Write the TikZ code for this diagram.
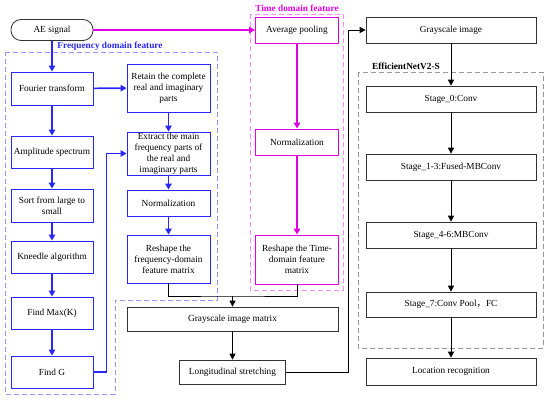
\documentclass[tikz,border=0pt]{standalone}
\usepackage{fontspec}
\setmainfont{Liberation Serif}
\newfontfamily\cjk{Noto Sans CJK SC}
\usetikzlibrary{arrows.meta}
\definecolor{fblue}{RGB}{40,40,250}
\definecolor{fdash}{RGB}{150,150,255}
\definecolor{tmag}{RGB}{225,0,225}
\definecolor{tdash}{RGB}{255,140,255}
\definecolor{edash}{RGB}{150,150,150}
\tikzset{
  box/.style={draw, rectangle, align=center, inner sep=0pt, font=\fontsize{9.3}{11}\selectfont},
  fbox/.style={box, draw=fblue, line width=0.9pt, minimum width=82, minimum height=32},
  tbox/.style={box, draw=tmag, line width=0.9pt, minimum width=83, minimum height=26},
  ebox/.style={box, draw=black!80, line width=0.7pt, minimum width=170, minimum height=26},
  farr/.style={fblue, line width=1.6pt, -{Triangle[length=6pt,width=6.5pt]}},
  tarr/.style={tmag, line width=1.1pt, -{Triangle[length=6pt,width=6.5pt]}},
  earr/.style={black, line width=0.8pt, -{Triangle[length=6pt,width=6pt]}},
  grp/.style={font=\fontsize{9.3}{11}\selectfont\bfseries},
  frame/.style={dash pattern=on 5pt off 3pt, line width=0.6pt}
}
\begin{document}
\begin{tikzpicture}[x=1pt,y=-1pt]
\useasboundingbox (0,0) rectangle (550,403);

% group frames
\draw[frame, fdash] (5,52) -- (217,52) -- (217,300) -- (115,300) -- (115,394) -- (5,394) -- cycle;
\draw[frame, tdash] (250,14) rectangle (343,290);
\draw[frame, edash] (358,72) rectangle (543,348);
\node[grp, text=fblue] (flabel) at (110,46) {Frequency domain feature};
\node[grp, text=tmag] (tlabel) at (297,8) {Time domain feature};
\node[grp] (elabel) at (406,66) {EfficientNetV2-S};

% frequency branch
\node[box, draw=black!80, line width=0.8pt, rounded corners=10pt, minimum width=82, minimum height=21] (ae) at (52,30) {AE signal};
\node[fbox, minimum height=33] (ft) at (52,88.5) {Fourier transform};
\node[fbox] (amp) at (52,152) {Amplitude spectrum};
\node[fbox, minimum height=33] (sort) at (52,205.5) {Sort from large to\\small};
\node[fbox] (kn) at (52,257) {Kneedle algorithm};
\node[fbox] (mx) at (52,313) {Find Max(K)};
\node[fbox] (g) at (52,372) {Find G};
\node[fbox, minimum width=83, minimum height=48] (ret) at (168.5,88) {Retain the complete\\real and imaginary\\parts};
\node[fbox, minimum width=83, minimum height=43] (ext) at (168.5,153.5) {Extract the main\\frequency parts of\\the real and\\imaginary parts};
\node[fbox, minimum width=83, minimum height=26] (nrm) at (168.5,203) {Normalization};
\node[fbox, minimum width=83, minimum height=48] (rsf) at (168.5,259) {Reshape the\\frequency-domain\\feature matrix};

% time branch
\node[tbox] (avg) at (297,30) {Average pooling};
\node[tbox] (nrt) at (297,142) {Normalization};
\node[tbox, minimum height=49] (rst) at (297,259.5) {Reshape the Time-\\domain feature\\matrix};

% image and network
\node[ebox, minimum width=211, minimum height=24] (gim) at (232.5,319) {Grayscale image matrix};
\node[ebox, minimum width=106, minimum height=24] (lst) at (232.5,372) {Longitudinal stretching};
\node[ebox] (gi) at (451,30) {Grayscale image};
\node[ebox] (s0) at (451,99) {Stage\_0:Conv};
\node[ebox] (s13) at (451,167) {Stage\_1-3:Fused-MBConv};
\node[ebox] (s46) at (451,235) {Stage\_4-6:MBConv};
\node[ebox, minimum height=25] (s7) at (451,304.5) {Stage\_7:Conv Pool{\cjk ，}FC};
\node[ebox, minimum height=27] (loc) at (451,371.5) {Location recognition};
\coordinate (jn) at (232.5,296);

% connectors
\draw[farr] (ae) -- (ft);
\draw[farr] (ft) -- (amp);
\draw[farr] (amp) -- (sort);
\draw[farr] (sort) -- (kn);
\draw[farr] (kn) -- (mx);
\draw[farr] (mx) -- (g);
\draw[farr] (ft) -- (ret);
\draw[farr] (ret) -- (ext);
\draw[farr] (ext) -- (nrm);
\draw[farr] (nrm) -- (rsf);
\draw[farr] (g.east) -- ++(13,0) |- (ext.west);
\draw[tarr] (ae) -- (avg);
\draw[tarr] (avg) -- (nrt);
\draw[tarr] (nrt) -- (rst);
\draw[black, line width=0.8pt] (rsf.south) |- (jn) -| (rst.south);
\draw[earr] (jn) -- (gim);
\draw[earr] (gim) -- (lst);
\draw[earr] (lst.east) -- ++(62.5,0) |- (gi.west);
\draw[earr] (gi) -- (s0);
\draw[earr] (s0) -- (s13);
\draw[earr] (s13) -- (s46);
\draw[earr] (s46) -- (s7);
\draw[earr] (s7) -- (loc);

\end{tikzpicture}
\end{document}
